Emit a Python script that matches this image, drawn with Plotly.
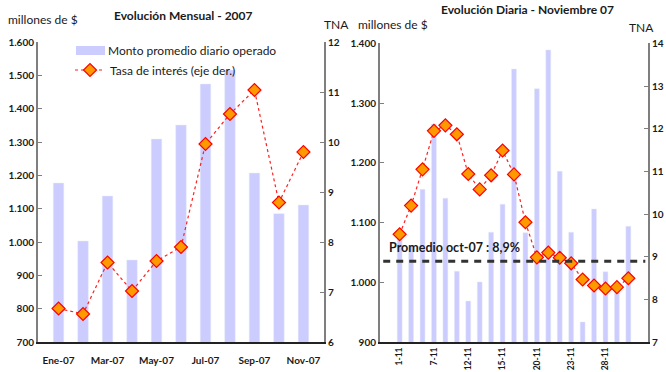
import plotly.graph_objects as go

# ---------------- data ----------------
meses = ["Ene-07", "Feb-07", "Mar-07", "Abr-07", "May-07", "Jun-07",
         "Jul-07", "Ago-07", "Sep-07", "Oct-07", "Nov-07"]
monto_mensual = [1177, 1003, 1138, 946, 1309, 1351, 1474, 1516, 1207, 1085, 1111]
tasa_mensual = [6.67, 6.56, 7.59, 7.02, 7.62, 7.90, 9.96, 10.56, 11.04, 8.79, 9.80]
meses_ticks = ["Ene-07", "Mar-07", "May-07", "Jul-07", "Sep-07", "Nov-07"]

dias = ["1-11", "2-11", "6-11", "7-11", "8-11", "9-11", "12-11", "13-11", "14-11",
        "15-11", "16-11", "19-11", "20-11", "21-11", "22-11", "23-11", "26-11",
        "27-11", "28-11", "29-11", "30-11"]
monto_diario = [1075, 1062, 1156, 1265, 1141, 1019, 969, 1001, 1084, 1131, 1357,
                1083, 1324, 1389, 1186, 1084, 934, 1123, 1018, 988, 1094]
tasa_diaria = [9.53, 10.20, 11.05, 11.95, 12.08, 11.87, 10.94, 10.58, 10.91, 11.49,
               10.93, 9.81, 8.99, 9.10, 8.98, 8.85, 8.47, 8.33, 8.26, 8.29, 8.50]
dias_ticks = ["1-11", "7-11", "12-11", "15-11", "20-11", "23-11", "28-11"]
promedio_oct = 8.9

monto_izq_ticks = [700, 800, 900, 1000, 1100, 1200, 1300, 1400, 1500, 1600]
monto_izq_text = ["700", "800", "900", "1.000", "1.100", "1.200", "1.300", "1.400", "1.500", "1.600"]
monto_der_ticks = [900, 1000, 1100, 1200, 1300, 1400]
monto_der_text = ["900", "1.000", "1.100", "1.200", "1.300", "1.400"]

# ---------------- style ----------------
W, H = 666, 372
FONT = "Lato"
BAR_COLOR = "#CCCCFF"
AXIS_GRAY = "#7f7f7f"
TXT = "#1a1a1a"

def px(x):
    return x / W

def py(y):
    return 1 - y / H

fig = go.Figure()

fig.add_trace(go.Bar(x=meses, y=monto_mensual, marker_color=BAR_COLOR,
                     name="Monto promedio diario operado", showlegend=False,
                     xaxis="x", yaxis="y"))
fig.add_trace(go.Scatter(x=meses, y=tasa_mensual, mode="lines+markers",
                         name="Tasa de interés (eje der.)",
                         line=dict(color="#FF2020", width=1.2, dash="dot"),
                         marker=dict(symbol="diamond", size=10, color="#FF9900",
                                     line=dict(color="#FF0000", width=1.2)),
                         xaxis="x", yaxis="y2"))
fig.add_trace(go.Bar(x=dias, y=monto_diario, marker_color=BAR_COLOR, showlegend=False,
                     xaxis="x2", yaxis="y3"))
fig.add_trace(go.Scatter(x=dias, y=tasa_diaria, mode="lines+markers", showlegend=False,
                         line=dict(color="#FF2020", width=1.2, dash="dot"),
                         marker=dict(symbol="diamond", size=10, color="#FF9900",
                                     line=dict(color="#FF0000", width=1.2)),
                         xaxis="x2", yaxis="y4"))

tickfont = dict(family=FONT, size=10, color=TXT, weight="bold")

yaxis_common = dict(showgrid=False, zeroline=False, showline=True, linecolor=AXIS_GRAY,
                    linewidth=2, ticks="inside", ticklen=4, tickcolor=AXIS_GRAY,
                    tickwidth=1, tickfont=tickfont, fixedrange=True, automargin=False)

ydom_l = [py(342), py(42)]
ydom_r = [py(342.3), py(43.3)]

fig.update_layout(
    width=W, height=H, margin=dict(l=0, r=0, t=0, b=0, autoexpand=False),
    paper_bgcolor="white", plot_bgcolor="white",
    bargap=0.57, showlegend=True,
    font=dict(family=FONT, color=TXT),
    legend=dict(x=px(70), y=py(70), xanchor="left", yanchor="middle",
                bgcolor="rgba(0,0,0,0)", font=dict(family=FONT, size=12, color=TXT),
                itemwidth=30),
    xaxis=dict(domain=[px(38), px(324)], type="category", showgrid=False,
               showline=True, linecolor="#222222", linewidth=1.5, ticks="",
               tickvals=meses_ticks, tickfont=tickfont, ticklabelstandoff=8,
               anchor="y", automargin=False),
    yaxis=dict(domain=ydom_l, range=[700, 1600], tickvals=monto_izq_ticks,
               ticktext=monto_izq_text, anchor="x", **yaxis_common),
    yaxis2=dict(range=[6, 12], dtick=1, overlaying="y", side="right", anchor="x",
                **yaxis_common),
    xaxis2=dict(domain=[px(380), px(648)], type="category", showgrid=False,
                showline=True, linecolor="#222222", linewidth=1.5, ticks="",
                tickvals=dias_ticks, tickangle=-90,
                tickfont=dict(family=FONT, size=8.5, color=TXT, weight="bold"),
                ticklabelstandoff=0, anchor="y3", automargin=False),
    yaxis3=dict(domain=ydom_r, range=[900, 1400], tickvals=monto_der_ticks,
                ticktext=monto_der_text, anchor="x2", **yaxis_common),
    yaxis4=dict(range=[7, 14], dtick=1, overlaying="y3", side="right", anchor="x2",
                **yaxis_common),
)

# legend swatch for the bars (wide rectangle, as in the original)
fig.add_shape(type="rect", xref="paper", yref="paper", x0=px(76), x1=px(105),
              y0=py(55), y1=py(46), fillcolor=BAR_COLOR, line=dict(width=0))

# average line (Oct-07)
fig.add_shape(type="line", xref="x2 domain", yref="y4", x0=0.012, x1=0.99,
              y0=promedio_oct, y1=promedio_oct,
              line=dict(color="#333333", width=3, dash="7px,6px"), layer="above")
fig.add_annotation(text="Promedio oct-07 : 8,9%", xref="x2 domain", yref="paper",
                   x=0.025, y=py(247), xanchor="left", yanchor="middle", showarrow=False,
                   font=dict(family=FONT, size=12.5, color=TXT, weight="bold"))

def label(text, x, y, size=12, bold=False, anchor="left"):
    fig.add_annotation(text=text, xref="paper", yref="paper", x=px(x), y=py(y),
                       xanchor=anchor, yanchor="middle", showarrow=False,
                       font=dict(family=FONT, size=size, color=TXT,
                                 weight="bold" if bold else "normal"))

label("Monto promedio diario operado", 106, 50, size=12)
label("Evolución Mensual - 2007", 183, 16, size=12, bold=True, anchor="center")
label("Evolución Diaria - Noviembre 07", 527, 10, size=12, bold=True, anchor="center")
label("millones de $", 6, 20, size=12)
label("TNA", 322, 25, size=12)
label("millones de $", 356, 25, size=12)
label("TNA", 627, 27, size=12)

fig.write_html("out.html")
